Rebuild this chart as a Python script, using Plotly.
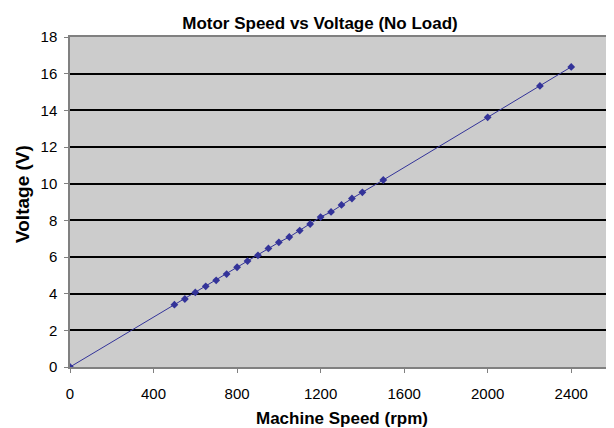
import plotly.graph_objects as go

speed_rpm = [0, 500, 550, 600, 650, 700, 750, 800, 850, 900, 950, 1000,
             1050, 1100, 1150, 1200, 1250, 1300, 1350, 1400, 1500, 2000, 2250, 2400]
voltage_v = [0, 3.40, 3.71, 4.07, 4.40, 4.73, 5.07, 5.44, 5.78, 6.09, 6.47, 6.80,
             7.09, 7.44, 7.80, 8.18, 8.46, 8.84, 9.19, 9.53, 10.20, 13.62, 15.33, 16.37]
x_ticks = [0, 400, 800, 1200, 1600, 2000, 2400]
y_ticks = [0, 2, 4, 6, 8, 10, 12, 14, 16, 18]

FONT = "Liberation Sans, Arial, sans-serif"
SERIES = "#333399"

# page body adds an 8px offset, so the figure is 8px smaller than the window
W, H = 606, 420

fig = go.Figure()
fig.add_trace(go.Scatter(
    x=speed_rpm, y=voltage_v, mode="lines+markers",
    line=dict(color=SERIES, width=1),
    marker=dict(symbol="diamond", size=6, color=SERIES),
    showlegend=False, hoverinfo="x+y",
))

fig.update_layout(
    width=W, height=H,
    margin=dict(l=62, r=1, t=29, b=61, autoexpand=False),
    paper_bgcolor="white",
    plot_bgcolor="#CCCCCC",
    font=dict(family=FONT, size=15, color="black"),
    title=dict(text="<b>Motor Speed vs Voltage (No Load)</b>",
               font=dict(family=FONT, size=17, color="black"),
               x=312 / W, xanchor="center", xref="container",
               y=1 - 15 / H, yanchor="middle", yref="container"),
    xaxis=dict(
        range=[0, 2600], tickvals=x_ticks, ticktext=[str(v) for v in x_ticks],
        showgrid=False, zeroline=False, automargin=False,
        showline=True, linecolor="#808080", linewidth=1.5, mirror=True,
        ticks="outside", ticklen=4, tickcolor="#808080", tickwidth=1,
        ticklabelstandoff=8,
        tickfont=dict(family=FONT, size=15, color="black"),
    ),
    yaxis=dict(
        range=[0, 18], tickvals=y_ticks, ticktext=[str(v) for v in y_ticks],
        showgrid=True, gridcolor="black", gridwidth=1.5, zeroline=False,
        automargin=False,
        showline=True, linecolor="#808080", linewidth=1.5, mirror=True,
        ticks="outside", ticklen=4, tickcolor="#808080", tickwidth=1,
        ticklabelstandoff=4,
        tickfont=dict(family=FONT, size=15, color="black"),
    ),
    annotations=[
        dict(text="<b>Machine Speed (rpm)</b>", xref="paper", yref="paper",
             x=0.5, y=0, xanchor="center", yanchor="middle", yshift=-51,
             showarrow=False, font=dict(family=FONT, size=17, color="black")),
        dict(text="<b>Voltage (V)</b>", xref="paper", yref="paper",
             x=0, y=0.5, xanchor="center", yanchor="middle", xshift=-48, yshift=8,
             textangle=-90, showarrow=False,
             font=dict(family=FONT, size=19, color="black")),
    ],
)

fig.write_html("out.html")
